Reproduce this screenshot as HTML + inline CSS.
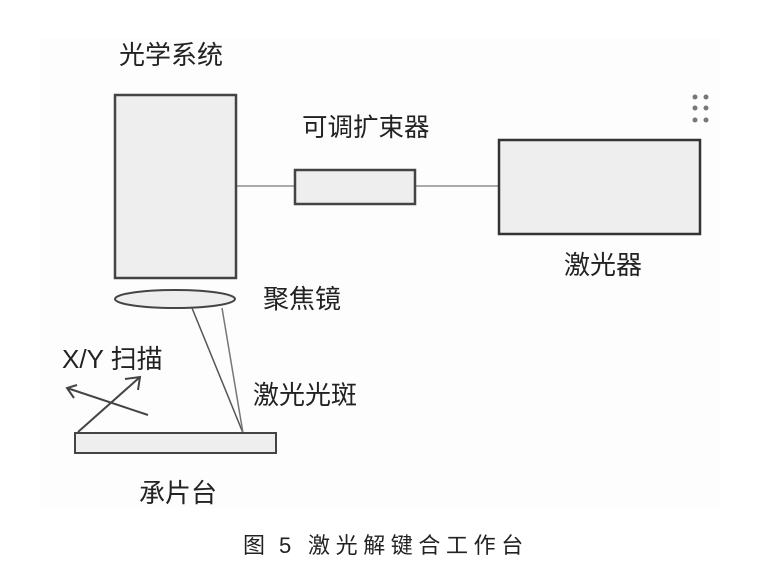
<!DOCTYPE html>
<html><head><meta charset="utf-8"><style>
html,body{margin:0;padding:0;background:#fff;}
svg text{font-family:"Liberation Sans","Noto Sans CJK SC",sans-serif;fill:#222;}
</style></head><body>
<svg width="769" height="581" viewBox="0 0 769 581" xmlns="http://www.w3.org/2000/svg">
<rect x="0" y="0" width="769" height="581" fill="#fff"/>
<rect x="40" y="38" width="680" height="470" fill="#fdfdfd"/>
<line x1="236" y1="186" x2="499" y2="186" stroke="#aaa" stroke-width="2"/>
<rect x="115" y="95" width="121" height="183" fill="#eee" stroke="#444" stroke-width="2.5"/>
<rect x="295" y="170" width="120" height="34" fill="#eee" stroke="#444" stroke-width="2.5"/>
<rect x="499" y="140" width="201" height="94" fill="#eee" stroke="#333" stroke-width="2.5"/>
<ellipse cx="175" cy="299" rx="60" ry="9" fill="#eee" stroke="#444" stroke-width="2"/>
<line x1="192" y1="308" x2="243" y2="433" stroke="#555" stroke-width="1.5"/>
<line x1="222" y1="308" x2="243" y2="433" stroke="#777" stroke-width="1.5"/>
<rect x="75" y="433" width="201" height="20" fill="#eee" stroke="#444" stroke-width="2"/>
<g stroke="#444" stroke-width="2" fill="none">
<line x1="78" y1="432" x2="140" y2="377"/>
<polyline points="125,379 140,377 138,390"/>
<line x1="148" y1="415" x2="67" y2="388"/>
<polyline points="77,385 67,388 74,398"/>
</g>
<g fill="#777">
<circle cx="695" cy="97" r="2.5"/><circle cx="706" cy="97" r="2.5"/>
<circle cx="695" cy="108" r="2.5"/><circle cx="706" cy="108" r="2.5"/>
<circle cx="695" cy="120" r="2.5"/><circle cx="706" cy="120" r="2.5"/>
</g>
<text x="119" y="64" font-size="26">光学系统</text>
<text x="302" y="136" font-size="25.5">可调扩束器</text>
<text x="564" y="274" font-size="26">激光器</text>
<text x="263" y="308" font-size="26">聚焦镜</text>
<text x="62" y="368" font-size="26">X/Y 扫描</text>
<text x="253" y="404" font-size="26">激光光斑</text>
<text x="139" y="502" font-size="26">承片台</text>
<text x="243" y="553" font-size="22">图</text>
<text x="279" y="553" font-size="22">5</text>
<text x="308" y="553" font-size="22" letter-spacing="5.6">激光解键合工作台</text>
</svg>
</body></html>
